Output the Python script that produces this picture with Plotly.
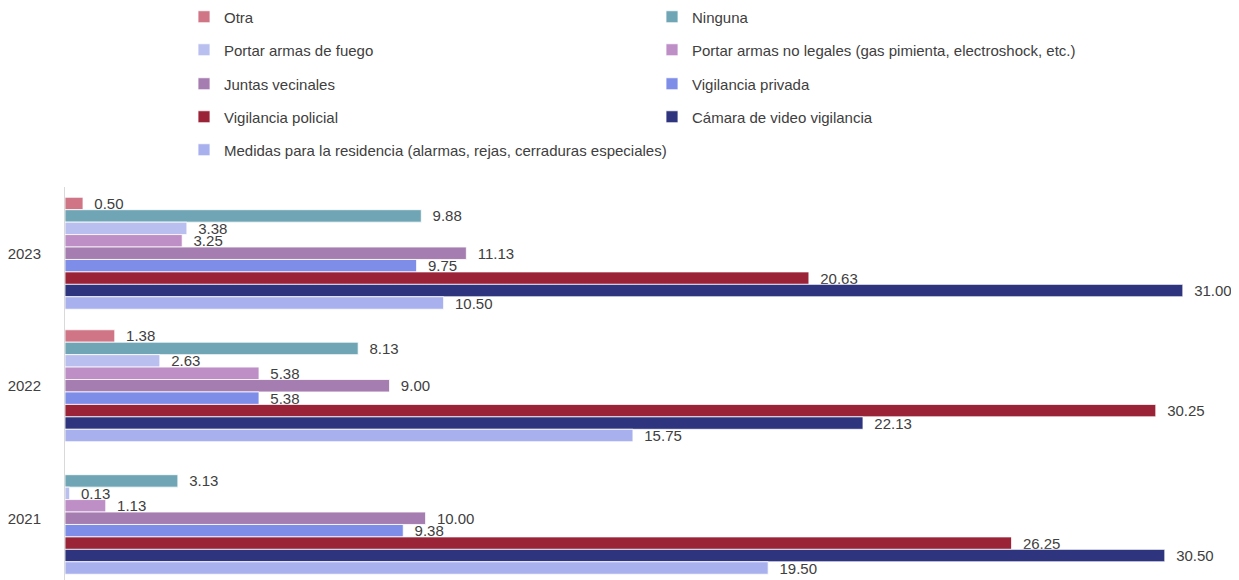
import plotly.graph_objects as go

# Data
years = ["2023", "2022", "2021"]
series_names = [
    "Otra",
    "Ninguna",
    "Portar armas de fuego",
    "Portar armas no legales (gas pimienta, electroshock, etc.)",
    "Juntas vecinales",
    "Vigilancia privada",
    "Vigilancia policial",
    "Cámara de video vigilancia",
    "Medidas para la residencia (alarmas, rejas, cerraduras especiales)",
]
otra = [0.50, 1.38, None]
ninguna = [9.88, 8.13, 3.13]
armas_fuego = [3.38, 2.63, 0.13]
armas_no_legales = [3.25, 5.38, 1.13]
juntas = [11.13, 9.00, 10.00]
vig_privada = [9.75, 5.38, 9.38]
vig_policial = [20.63, 30.25, 26.25]
camara = [31.00, 22.13, 30.50]
medidas = [10.50, 15.75, 19.50]
series_values = [otra, ninguna, armas_fuego, armas_no_legales, juntas,
                 vig_privada, vig_policial, camara, medidas]

colors = ["#D07585", "#6FA5B4", "#B9C0F0", "#BE8EC6", "#A67DB0",
          "#7E8DE8", "#9B2338", "#2E357E", "#A8B1EE"]

FONT = "Liberation Sans, Arial, sans-serif"
TXT = "#404040"
# page body has an 8px margin, so the figure is a bit smaller than the window
W, H = 1231, 572

# legend rows: two entries per row, one legend per row
legend_ids = ["legend", "legend", "legend2", "legend2", "legend3", "legend3",
              "legend4", "legend4", "legend5"]
row_y = [9, 42, 76, 109, 142]

fig = go.Figure()
for name, vals, col, lg in zip(series_names, series_values, colors, legend_ids):
    fig.add_trace(go.Bar(
        y=years, x=vals, name=name, orientation="h",
        marker=dict(color=col, line=dict(color="white", width=0.8)),
        text=vals, texttemplate="\u00a0\u00a0%{x:.2f}", textposition="outside",
        textfont=dict(family=FONT, size=15, color=TXT),
        constraintext="none", cliponaxis=False,
        legend=lg,
    ))

layout_legends = {}
for i, y in enumerate(row_y):
    key = "legend" if i == 0 else "legend%d" % (i + 1)
    layout_legends[key] = dict(
        orientation="h", xref="container", yref="container",
        x=176 / W, y=1 - y / H, xanchor="left", yanchor="middle",
        entrywidth=423 if i < 4 else 0,
        font=dict(family=FONT, size=15, color=TXT),
        bgcolor="rgba(0,0,0,0)", itemclick=False,
    )

fig.update_layout(
    width=W, height=H,
    margin=dict(l=57, r=10, t=179, b=0, autoexpand=False),
    barmode="group", bargap=0.155, bargroupgap=0,
    plot_bgcolor="white", paper_bgcolor="white",
    font=dict(family=FONT, size=15, color=TXT),
    xaxis=dict(visible=False, range=[0, 32.28], showgrid=False, zeroline=False),
    yaxis=dict(
        type="category", categoryorder="array", categoryarray=years,
        range=[2.466, -0.5], showline=True, linecolor="#D9D9D9", linewidth=1,
        showgrid=False, ticks="", ticklabelstandoff=20, automargin=False,
        tickfont=dict(family=FONT, size=15, color=TXT),
    ),
    showlegend=True,
    **layout_legends,
)

fig.write_html("out.html")
